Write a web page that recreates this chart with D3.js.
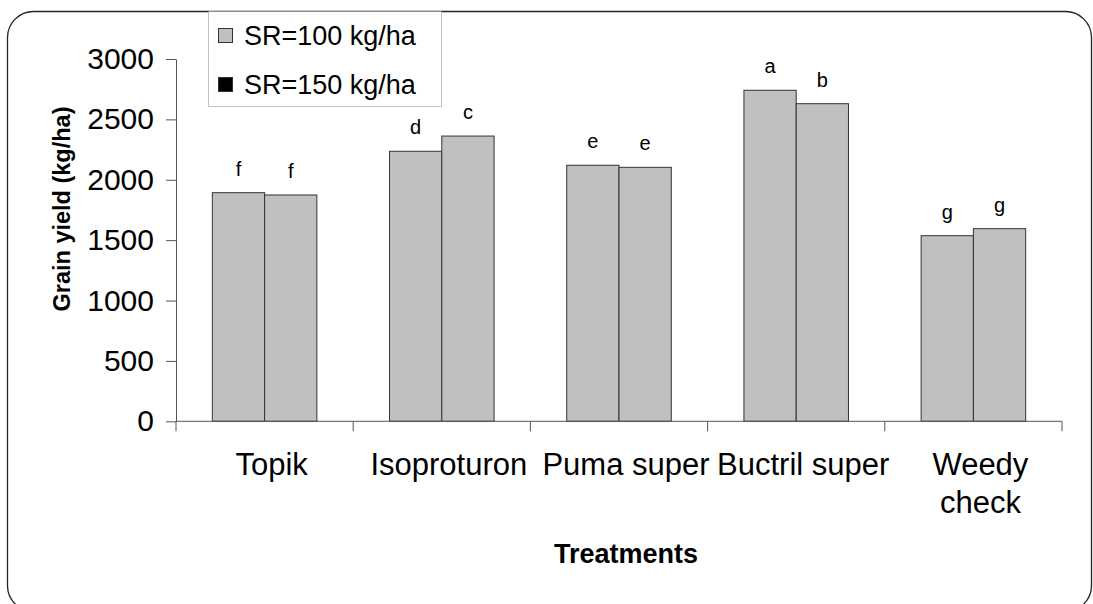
<!DOCTYPE html>
<html>
<head>
<meta charset="utf-8">
<script src="https://cdn.jsdelivr.net/npm/d3@7/dist/d3.min.js"></script>
<style>
  html, body { margin: 0; padding: 0; background: #fff; }
  svg { display: block; font-family: "Liberation Sans", Arial, sans-serif; }
</style>
</head>
<body>
<svg id="chart" width="1093" height="604"></svg>
<script>
// ---- data ----
const categories = ["Topik", "Isoproturon", "Puma super", "Buctril super", "Weedy check"];
const categoryLines = [["Topik"], ["Isoproturon"], ["Puma super"], ["Buctril super"], ["Weedy", "check"]];
const seriesNames = ["SR=100 kg/ha", "SR=150 kg/ha"];
const sr100 = [1893, 2236, 2120, 2741, 1537];
const sr150 = [1874, 2362, 2103, 2630, 1595];
const letters100 = ["f", "d", "e", "a", "g"];
const letters150 = ["f", "c", "e", "b", "g"];
const yTicks = [0, 500, 1000, 1500, 2000, 2500, 3000];
const yTitle = "Grain yield (kg/ha)";
const xTitle = "Treatments";

// ---- layout ----
const svg = d3.select("#chart");
const plot = { left: 176, right: 1062, top: 59, bottom: 421.3 };
const axisColor = "#555";
const barFill = "#c0c0c0";
const barStroke = "#333";

// outer rounded border
svg.append("rect")
  .attr("x", 7.5).attr("y", 11.5)
  .attr("width", 1084).attr("height", 600)
  .attr("rx", 26).attr("ry", 26)
  .attr("fill", "#fff").attr("stroke", "#222").attr("stroke-width", 1.3);

const x = d3.scaleBand().domain(categories)
  .range([plot.left, plot.right])
  .paddingInner(0.41).paddingOuter(0.205);
const xs = d3.scaleBand().domain([0, 1]).range([0, x.bandwidth()]);
const y = d3.scaleLinear().domain([0, 3000]).range([plot.bottom, plot.top]);

const series = [sr100, sr150];
const letters = [letters100, letters150];

// bars + letters
const g = svg.append("g");
series.forEach((vals, si) => {
  g.selectAll(null).data(categories).enter().append("rect")
    .attr("x", c => x(c) + xs(si))
    .attr("y", (c, i) => y(vals[i]))
    .attr("width", xs.bandwidth())
    .attr("height", (c, i) => y(0) - y(vals[i]))
    .attr("fill", barFill)
    .attr("stroke", barStroke)
    .attr("stroke-width", 1);
  g.selectAll(null).data(categories).enter().append("text")
    .attr("x", c => x(c) + xs(si) + xs.bandwidth() / 2)
    .attr("y", (c, i) => y(vals[i]) - 17)
    .attr("text-anchor", "middle")
    .attr("font-size", 20)
    .attr("fill", "#000")
    .text((c, i) => letters[si][i]);
});

// y axis
const yAxis = d3.axisLeft(y).tickValues(yTicks).tickFormat(d3.format("d"))
  .tickSize(10).tickPadding(12).tickSizeOuter(0);
const ya = svg.append("g").attr("transform", `translate(${plot.left},0)`).call(yAxis);
ya.select(".domain").attr("stroke", axisColor);
ya.selectAll(".tick line").attr("stroke", axisColor);
ya.selectAll(".tick text").attr("font-size", 30).attr("fill", "#000")
  .attr("font-family", "Liberation Sans, Arial, sans-serif");

// x axis line and boundary ticks
svg.append("line")
  .attr("x1", plot.left).attr("x2", plot.right)
  .attr("y1", y(0)).attr("y2", y(0))
  .attr("stroke", axisColor);
const boundaries = d3.range(categories.length + 1).map(i => plot.left + i * x.step());
svg.selectAll(null).data(boundaries).enter().append("line")
  .attr("x1", d => d).attr("x2", d => d)
  .attr("y1", y(0)).attr("y2", y(0) + 10)
  .attr("stroke", axisColor);

// category labels
categories.forEach((c, i) => {
  const cx = x(c) + x.bandwidth() / 2 + 7;
  const t = svg.append("text")
    .attr("x", cx)
    .attr("y", 475)
    .attr("text-anchor", "middle")
    .attr("font-size", 31)
    .attr("fill", "#000");
  categoryLines[i].forEach((line, li) => {
    t.append("tspan")
      .attr("x", cx)
      .attr("dy", li === 0 ? 0 : 38)
      .text(line);
  });
});

// axis titles
svg.append("text")
  .attr("transform", `translate(70,209) rotate(-90)`)
  .attr("text-anchor", "middle")
  .attr("font-size", 23.5).attr("font-weight", "bold")
  .text(yTitle);
svg.append("text")
  .attr("x", 626).attr("y", 563)
  .attr("text-anchor", "middle")
  .attr("font-size", 27).attr("font-weight", "bold")
  .text(xTitle);

// legend
const lg = svg.append("g");
lg.append("rect")
  .attr("x", 208.5).attr("y", 11.5).attr("width", 233).attr("height", 95)
  .attr("fill", "#fff").attr("stroke", "#888").attr("stroke-width", 1)
  .attr("stroke-dasharray", "1,1");
const legendFills = [barFill, "#000"];
seriesNames.forEach((name, i) => {
  const cy = 36 + i * 49;
  lg.append("rect")
    .attr("x", 218.5).attr("y", cy - 7.5).attr("width", 14).attr("height", 14)
    .attr("fill", legendFills[i]).attr("stroke", "#333").attr("stroke-width", 1);
  lg.append("text")
    .attr("x", 244).attr("y", cy + 9)
    .attr("font-size", 27).attr("fill", "#000")
    .text(name);
});
</script>
</body>
</html>
